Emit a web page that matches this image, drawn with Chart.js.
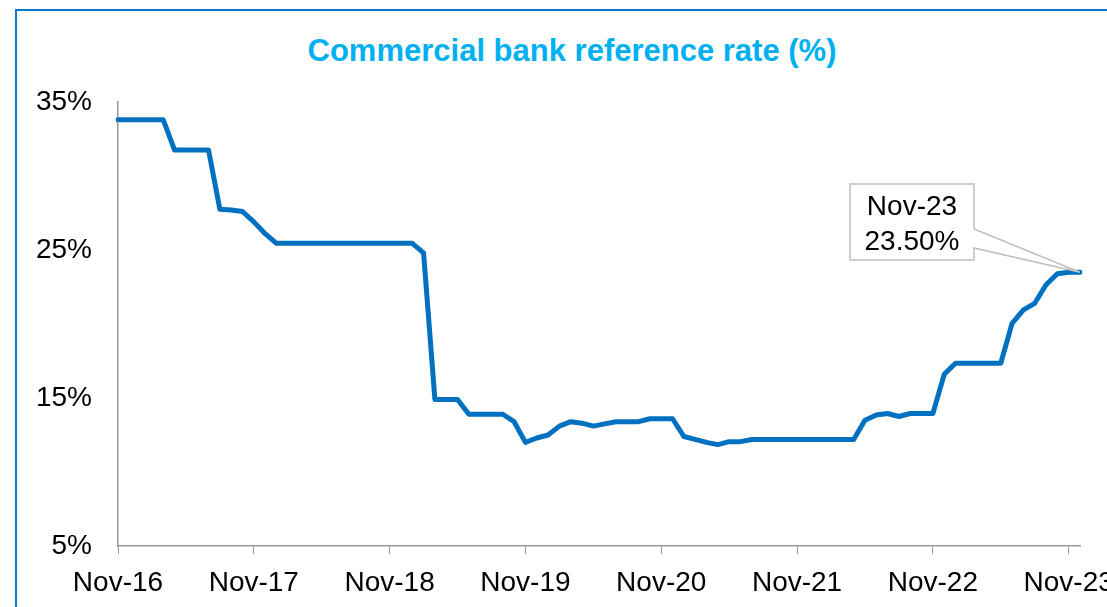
<!DOCTYPE html>
<html>
<head>
<meta charset="utf-8">
<script src="https://cdn.jsdelivr.net/npm/chart.js@4/dist/chart.umd.min.js"></script>
<style>
  html, body { margin: 0; padding: 0; background: #fff; }
  #wrap { position: relative; width: 1107px; height: 607px; overflow: hidden; }
  #frame { position: absolute; left: 15px; top: 9px; width: 1200px; height: 700px;
           border-left: 2px solid #0a78d0; border-top: 2px solid #0a78d0; }
  #title { position: absolute; left: 0; width: 1144px; top: 33px; text-align: center;
           font: bold 31px "Liberation Sans", Arial, sans-serif; color: #00b0f0; }
  canvas { position: absolute; left: 0; top: 0; }
</style>
</head>
<body>
<div id="wrap">
  <div id="frame"></div>
  <div id="title">Commercial bank reference rate (%)</div>
  <canvas id="chart" width="1107" height="607"></canvas>
</div>
<script>
// monthly, Nov-16 .. Dec-23
const monthNames = ['Jan','Feb','Mar','Apr','May','Jun','Jul','Aug','Sep','Oct','Nov','Dec'];
const startMonth = 10, startYear = 16, monthCount = 86;
const months = [];
for (let i = 0; i < monthCount; i++) {
  const m = (startMonth + i) % 12;
  const y = startYear + Math.floor((startMonth + i) / 12);
  months.push(monthNames[m] + '-' + y);
}

const rate = [
  33.8, 33.8, 33.8, 33.8, 33.8,
  31.75, 31.75, 31.75, 31.75,
  27.75, 27.7, 27.6, 26.9, 26.1,
  25.45, 25.45, 25.45, 25.45, 25.45, 25.45, 25.45, 25.45, 25.45, 25.45, 25.45, 25.45, 25.45,
  24.8,
  14.9, 14.9, 14.9,
  13.9, 13.9, 13.9, 13.9,
  13.4, 12.0, 12.3, 12.5, 13.1, 13.4, 13.3, 13.1, 13.25, 13.4, 13.4, 13.4,
  13.6, 13.6, 13.6, 12.4, 12.2, 12.0, 11.85, 12.05, 12.05,
  12.2, 12.2, 12.2, 12.2, 12.2, 12.2, 12.2, 12.2, 12.2, 12.2,
  13.5, 13.85, 13.95, 13.75, 13.95, 13.95, 13.95, 16.6,
  17.35, 17.35, 17.35, 17.35, 17.35,
  20.05, 20.95, 21.4, 22.65, 23.4, 23.5, 23.5
];

const xTickLabels = ['Nov-16', 'Nov-17', 'Nov-18', 'Nov-19', 'Nov-20', 'Nov-21', 'Nov-22', 'Nov-23'];
const yTicks = [5, 15, 25, 35];
const calloutLines = ['Nov-23', '23.50%'];

const FONT = '"Liberation Sans", Arial, sans-serif';

// callout box pointing at the last point
const callout = {
  id: 'callout',
  afterDatasetsDraw(chart) {
    const meta = chart.getDatasetMeta(0);
    const p = meta.data[meta.data.length - 1];
    const ctx = chart.ctx;
    const bx = 850, by = 184, bw = 124, bh = 76;
    ctx.save();
    ctx.strokeStyle = '#bfbfbf';
    ctx.lineWidth = 1.5;
    ctx.fillStyle = '#fff';
    ctx.beginPath();
    ctx.moveTo(bx, by);
    ctx.lineTo(bx + bw, by);
    ctx.lineTo(bx + bw, by + 45);
    ctx.lineTo(p.x, p.y);
    ctx.lineTo(bx + bw, by + 64);
    ctx.lineTo(bx + bw, by + bh);
    ctx.lineTo(bx, by + bh);
    ctx.closePath();
    ctx.fill();
    ctx.stroke();
    ctx.fillStyle = '#000';
    ctx.font = '28px ' + FONT;
    ctx.textAlign = 'center';
    ctx.textBaseline = 'alphabetic';
    ctx.fillText(calloutLines[0], bx + bw / 2, by + 31);
    ctx.fillText(calloutLines[1], bx + bw / 2, by + 66);
    ctx.restore();
  }
};

const isYearTick = i => xTickLabels.includes(months[i]);

new Chart(document.getElementById('chart'), {
  type: 'line',
  data: {
    labels: months,
    datasets: [{
      data: rate,
      borderColor: '#0070c0',
      borderWidth: 5,
      pointRadius: 0,
      tension: 0,
      borderJoinStyle: 'round',
      borderCapStyle: 'round'
    }]
  },
  options: {
    responsive: false,
    animation: false,
    layout: { padding: { left: 0, right: 27, top: 102, bottom: 0 } },
    plugins: { legend: { display: false }, tooltip: { enabled: false }, title: { display: false } },
    scales: {
      x: {
        grid: {
          display: true, drawOnChartArea: false, drawTicks: true, tickLength: 8,
          color: c => isYearTick(c.index) ? '#999' : 'rgba(0,0,0,0)'
        },
        border: { color: '#999', width: 1.5 },
        ticks: {
          autoSkip: false, maxRotation: 0, padding: 12, color: '#000',
          font: { family: FONT, size: 28 },
          callback: (v, i) => isYearTick(i) ? months[i] : ''
        },
        afterFit(scale) { scale.height = 61; }
      },
      y: {
        min: 5, max: 35,
        afterBuildTicks(scale) { scale.ticks = yTicks.map(v => ({ value: v })); },
        grid: { display: false, drawTicks: false },
        border: { color: '#999', width: 1.5 },
        ticks: {
          padding: 26, color: '#000',
          font: { family: FONT, size: 28 },
          callback: v => v + '%'
        },
        afterFit(scale) { scale.width = 118; }
      }
    }
  },
  plugins: [callout]
});
</script>
</body>
</html>
